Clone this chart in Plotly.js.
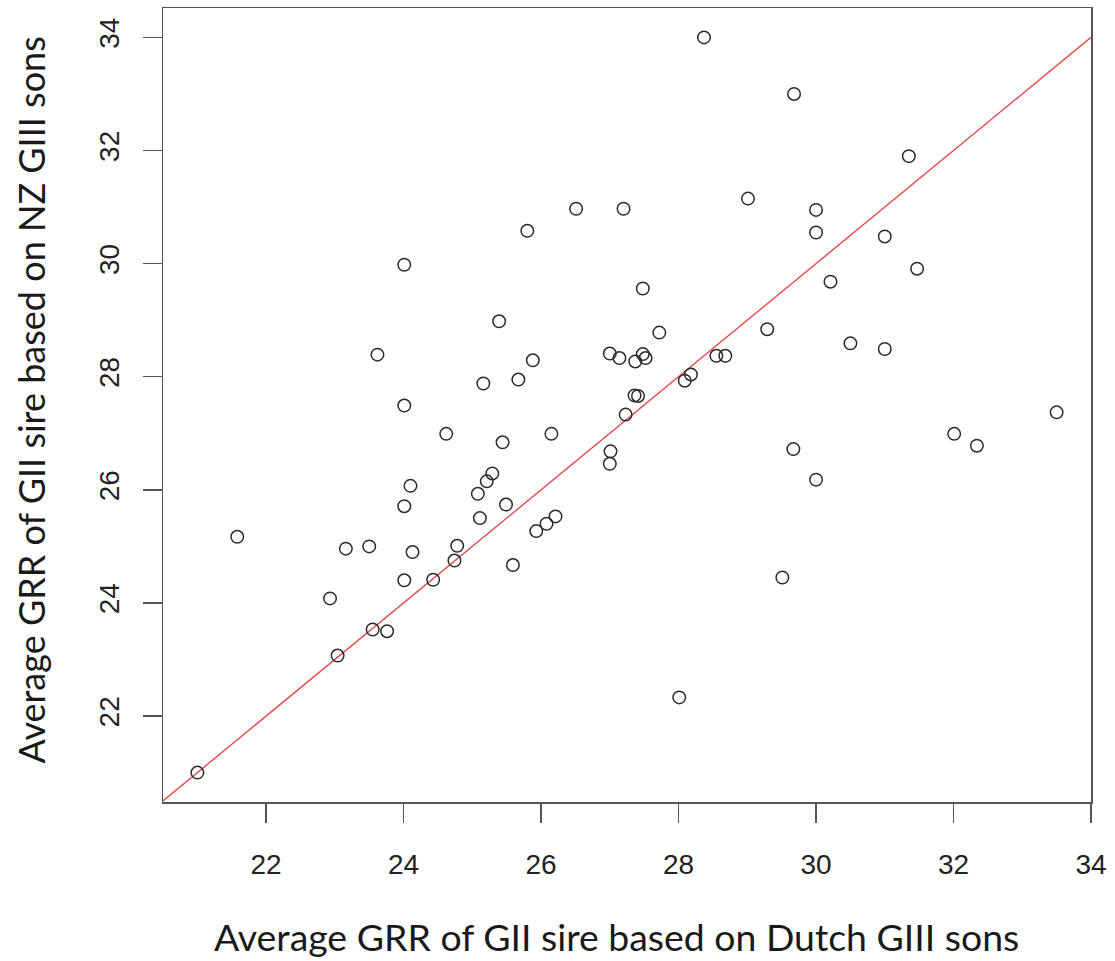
<!DOCTYPE html>
<html>
<head>
<meta charset="utf-8">
<script src="https://cdn.plot.ly/plotly-3.0.1.min.js"></script>
<style>
  html, body { margin: 0; padding: 0; background: #ffffff; }
  #chart { width: 1115px; height: 961px; }
</style>
</head>
<body>
<div id="chart"></div>
<script>
// Average GRR of each GII sire: Dutch GIII sons (x) vs NZ GIII sons (y)
const dutchGRR = [
  21.00, 21.58, 22.93, 23.04, 23.16, 23.50, 23.55, 23.76, 23.62, 24.01,
  24.01, 24.01, 24.01, 24.10, 24.13, 24.43, 24.62, 24.78, 24.74, 25.39,
  25.16, 25.08, 25.11, 25.21, 25.29, 25.44, 25.49, 25.59, 25.67, 25.80,
  25.88, 25.93, 26.08, 26.21, 26.15, 26.51, 27.20, 27.00, 27.14, 27.01,
  27.00, 27.23, 27.37, 27.48, 27.52, 27.36, 27.41, 27.48, 27.72, 28.09,
  28.18, 28.01, 28.37, 28.55, 28.68, 29.01, 29.29, 29.51, 29.68, 29.67,
  30.00, 30.00, 30.00, 30.21, 30.50, 31.00, 31.00, 31.35, 31.47, 32.01,
  32.34, 33.50
];
const nzGRR = [
  21.00, 25.17, 24.08, 23.07, 24.96, 25.00, 23.53, 23.50, 28.39, 29.98,
  27.49, 25.71, 24.40, 26.07, 24.90, 24.41, 26.99, 25.01, 24.75, 28.98,
  27.88, 25.93, 25.50, 26.15, 26.29, 26.84, 25.74, 24.67, 27.95, 30.58,
  28.29, 25.27, 25.40, 25.53, 26.99, 30.97, 30.97, 28.41, 28.33, 26.68,
  26.46, 27.33, 28.27, 28.40, 28.33, 27.67, 27.66, 29.56, 28.78, 27.93,
  28.04, 22.33, 34.00, 28.37, 28.37, 31.15, 28.84, 24.45, 33.00, 26.72,
  30.95, 30.55, 26.18, 29.68, 28.59, 30.48, 28.49, 31.90, 29.91, 26.99,
  26.78, 27.37
];

// Axis limits (data range padded by 4% on each side)
const xRange = [20.5, 34];
const yRange = [20.48, 34.52];
const tickValues = [22, 24, 26, 28, 30, 32, 34];

const xTitle = 'Average GRR of GII sire based on Dutch GIII sons';
const yTitle = 'Average GRR of GII sire based on NZ GIII sons';

const axisColor = '#555555';
const tickFont = { family: 'Liberation Sans, Arial, sans-serif', size: 28, color: '#222222' };
const titleFamily = 'Lato, Open Sans, sans-serif';

const points = {
  type: 'scatter',
  mode: 'markers',
  x: dutchGRR,
  y: nzGRR,
  marker: {
    symbol: 'circle-open',
    size: 12.5,
    color: '#2a2a2a',
    line: { width: 1.5, color: '#2a2a2a' }
  },
  hoverinfo: 'x+y',
  showlegend: false
};

// Identity line y = x across the full x axis
const identity = {
  type: 'scatter',
  mode: 'lines',
  x: xRange,
  y: xRange,
  line: { color: '#e34a4a', width: 1.4 },
  hoverinfo: 'skip',
  showlegend: false
};

const baseAxis = {
  showgrid: false,
  zeroline: false,
  showline: true,
  linecolor: axisColor,
  linewidth: 1.5,
  mirror: true,
  ticks: 'outside',
  ticklen: 19,
  tickwidth: 1.5,
  tickcolor: axisColor,
  tickvals: tickValues,
  ticktext: tickValues.map(String),
  tickfont: tickFont
};

const layout = {
  width: 1115,
  height: 961,
  margin: { l: 163, r: 24, t: 8, b: 159 },
  paper_bgcolor: '#ffffff',
  plot_bgcolor: '#ffffff',
  xaxis: Object.assign({}, baseAxis, {
    range: xRange,
    ticklabelstandoff: 18
  }),
  yaxis: Object.assign({}, baseAxis, {
    range: yRange,
    tickangle: -90,
    ticklabelstandoff: 12
  }),
  annotations: [
    {
      text: xTitle,
      xref: 'paper', yref: 'paper',
      x: 0.4887, y: -0.170,
      xanchor: 'center', yanchor: 'middle',
      showarrow: false,
      font: { family: titleFamily, size: 37.4, color: '#1a1a1a' }
    },
    {
      text: yTitle,
      xref: 'paper', yref: 'paper',
      x: -0.142, y: 0.506,
      xanchor: 'center', yanchor: 'middle',
      textangle: -90,
      showarrow: false,
      font: { family: titleFamily, size: 36, color: '#1a1a1a' }
    }
  ]
};

Plotly.newPlot('chart', [identity, points], layout, { displayModeBar: false, staticPlot: true });
</script>
</body>
</html>
